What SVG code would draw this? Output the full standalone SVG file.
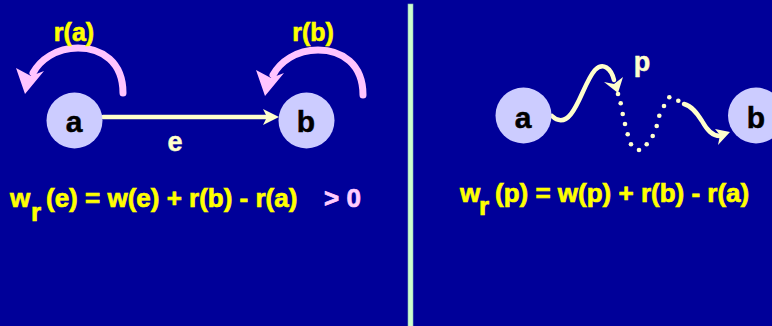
<svg xmlns="http://www.w3.org/2000/svg" width="772" height="326" viewBox="0 0 772 326">
<style>
.node{fill:#CCCCFF}
.nl{font-family:"Liberation Sans",Arial,sans-serif;font-weight:bold;font-size:30px;fill:#000;stroke:#000;stroke-width:0.5;text-anchor:middle}
.lbl{font-family:"Liberation Sans",Arial,sans-serif;font-weight:bold;font-size:25px;fill:#FFFF00;stroke:#FFFF00;stroke-width:0.6;text-anchor:middle}
.cr{font-family:"Liberation Sans",Arial,sans-serif;font-weight:bold;font-size:27px;fill:#FFFFCC;stroke:#FFFFCC;stroke-width:0.5;text-anchor:middle}
.f{font-family:"Liberation Sans",Arial,sans-serif;font-weight:bold;font-size:26px;fill:#FFFF00;stroke:#FFFF00;stroke-width:0.7}
.pk{fill:#FFCCFF;stroke:#FFCCFF}
.edge{fill:none;stroke:#FFFFCC;stroke-width:4.5;stroke-linecap:round}
.arc{fill:none;stroke:#FFC4FF;stroke-width:7;stroke-linecap:round}
.ah{fill:#FFFFCC}
.ahp{fill:#FFC4FF}
.dot{fill:#FFFFCC}
</style>
<rect width="772" height="326" fill="#000099"/>
<rect x="408" y="4" width="5" height="323" fill="#CCFFCC" stroke="#88BBBB" stroke-width="0.6"/>

<g id="connectors">
  <line class="edge" x1="103" y1="117" x2="268" y2="117"/>
  <polygon class="ah" points="279,117 263,109 267,117 263,125"/>
  <path class="arc" d="M123,93 C123,62 102,48 78,48 C56,48 40,60 33,73"/>
  <polygon class="ahp" points="25,94 16,68 31,76 44,71"/>
  <path class="arc" d="M363,95 C363,64 342,50 318,50 C296,50 280,62 273,75"/>
  <polygon class="ahp" points="265,96 256,70 271,78 284,73"/>
  <path class="edge" d="M552,116 C557,121 564,123 571,114 C580,103 586,80 595,70 C603,62 611,68 614,80"/>
  <polygon class="ah" points="618,93 604,82 614,84 623,77"/>
  <g class="dot">
    <circle cx="618" cy="94" r="2.3"/><circle cx="620.7" cy="103.3" r="2.3"/><circle cx="622.7" cy="114" r="2.3"/>
    <circle cx="625" cy="124" r="2.3"/><circle cx="627.7" cy="134.3" r="2.3"/><circle cx="631" cy="144.3" r="2.3"/>
    <circle cx="639" cy="150" r="2.3"/><circle cx="646.7" cy="144.3" r="2.3"/><circle cx="652.7" cy="136" r="2.3"/>
    <circle cx="656.7" cy="126" r="2.3"/><circle cx="659.3" cy="115.7" r="2.3"/><circle cx="664" cy="106" r="2.3"/>
    <circle cx="669.3" cy="97.3" r="2.3"/><circle cx="678.3" cy="100.7" r="2.3"/>
  </g>
  <path class="edge" d="M684,104 C692,106 697,113 702,121 C707,130 712,136 720,136"/>
  <polygon class="ah" points="730,132 715,129 720,135 718,145"/>
</g>

<text class="lbl" x="74" y="41">r(a)</text>
<text class="lbl" x="313" y="41">r(b)</text>
<text class="cr" x="175" y="151">e</text>
<text class="cr" x="642" y="71">p</text>

<g id="node-a-left"><circle class="node" cx="74.5" cy="120.5" r="28"/><text class="nl" x="74" y="132">a</text></g>
<g id="node-b-left"><circle class="node" cx="306.5" cy="120.5" r="28"/><text class="nl" x="306" y="132">b</text></g>
<g id="node-a-right"><circle class="node" cx="523.5" cy="115.5" r="28"/><text class="nl" x="523" y="128">a</text></g>
<g id="node-b-right"><circle class="node" cx="756" cy="115.5" r="28"/><text class="nl" x="756" y="128">b</text></g>

<text class="f" x="10" y="207">w</text>
<text class="f" x="31" y="221">r</text>
<text class="f" x="46" y="207">(e) = w(e) + r(b) - r(a)</text>
<text class="f pk" x="324" y="207">&gt; 0</text>

<text class="f" x="460" y="202">w</text>
<text class="f" x="479" y="215">r</text>
<text class="f" x="495" y="202">(p) = w(p) + r(b) - r(a)</text>
</svg>
